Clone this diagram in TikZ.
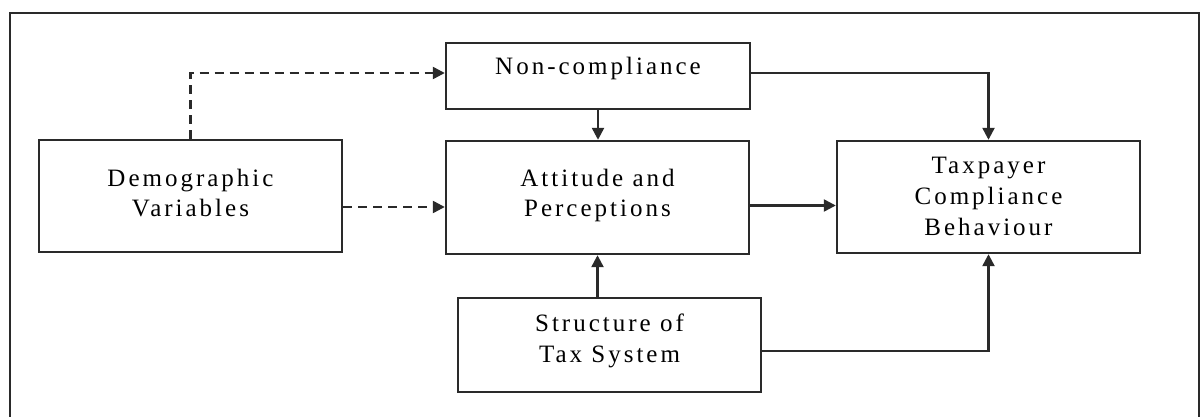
\documentclass[tikz,border=0pt]{standalone}
\usepackage{fontspec}
\setmainfont{Liberation Serif}[LetterSpace=12]
\usetikzlibrary{arrows.meta}
\definecolor{ink}{HTML}{2A2A2A}
\begin{document}
\begin{tikzpicture}[x=1pt,y=-1pt,
  box/.style={draw=ink, line width=2.4pt, minimum width=303pt, inner sep=0pt,
    align=center, font=\fontsize{25}{31}\selectfont},
  link/.style={draw=ink, line width=2.4pt, -{Triangle[length=12pt,width=12pt]}},
  dlink/.style={link, dash pattern=on 9pt off 6pt}]
\useasboundingbox (0,0) rectangle (1203,417);
\draw[line width=2.4pt, ink] (10,417) -- (10,13) -- (1199,13) -- (1199,417);

\node[box, minimum width=304pt, minimum height=66pt, text height=0pt, text depth=2pt] (nc) at (598,76) {Non-compliance};
\node[box, minimum height=113pt, text height=39pt, text depth=0pt] (ap) at (597.5,197.5) {Attitude and\\Perceptions};
\node[box, minimum height=112pt, text height=42pt, text depth=0pt] (dv) at (190.5,196) {Demographic\\Variables};
\node[box, minimum height=112pt, text height=76pt, text depth=0pt] (tp) at (988.5,197) {Taxpayer\\Compliance\\Behaviour};
\node[box, minimum height=94pt, text height=34pt, text depth=0pt] (st) at (609.5,345) {Structure of\\Tax System};

\coordinate (ncout) at ([yshift=3pt]nc.east);
\coordinate (ncin) at ([yshift=3pt]nc.west);
\coordinate (dvout) at ([yshift=-11pt]dv.east);
\coordinate (apout) at ([yshift=-8pt]ap.east);
\coordinate (stout) at ([yshift=-6pt]st.east);
\coordinate (stup) at (st.north -| ap.south);

\draw[dlink] (dv.north) |- (ncin);
\draw[dlink] (dvout) -- (dvout -| ap.west);
\draw[link] (nc.south) -- (nc.south |- ap.north);
\draw[link] (ncout) -| (tp.north);
\draw[link] (apout) -- (apout -| tp.west);
\draw[link] (stup) -- (ap.south);
\draw[link] (stout) -| (tp.south);
\end{tikzpicture}
\end{document}
